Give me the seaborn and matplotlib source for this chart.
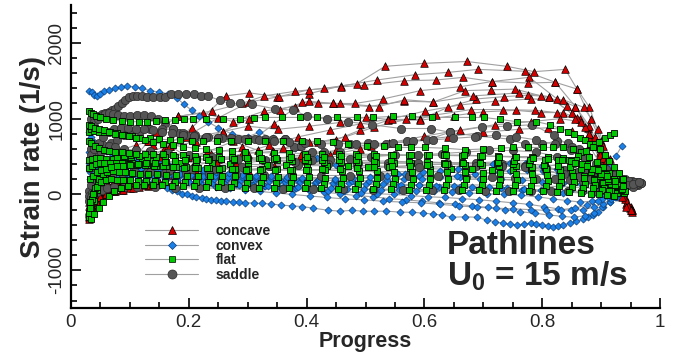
import matplotlib
matplotlib.use("Agg")
import matplotlib.pyplot as plt
import numpy as np
import pandas as pd
import seaborn as sns
from matplotlib.lines import Line2D
from matplotlib.ticker import MultipleLocator, FixedLocator, FixedFormatter

# ---------------- data ----------------
CONCAVE_X = [
    [0.030,0.034,0.040,0.050,0.065,0.085,0.110,0.140,0.182,0.240,0.290,0.328,0.380,0.430,0.485,0.533,0.600,0.672,0.740,0.786,0.839,0.859,0.880,0.900,0.918,0.935,0.950],
    [0.031,0.035,0.041,0.050,0.063,0.080,0.100,0.125,0.160,0.205,0.263,0.303,0.350,0.404,0.458,0.520,0.584,0.640,0.691,0.771,0.822,0.856,0.878,0.898,0.918,0.936,0.952],
    [0.030,0.033,0.038,0.045,0.055,0.070,0.090,0.115,0.150,0.195,0.250,0.303,0.353,0.404,0.458,0.498,0.566,0.620,0.666,0.715,0.778,0.825,0.856,0.880,0.903,0.925,0.942],
    [0.032,0.036,0.042,0.050,0.062,0.078,0.098,0.124,0.160,0.205,0.258,0.302,0.355,0.404,0.445,0.482,0.530,0.593,0.660,0.715,0.776,0.822,0.859,0.882,0.903,0.922,0.940,0.952],
    [0.031,0.035,0.041,0.049,0.060,0.075,0.095,0.122,0.160,0.199,0.237,0.290,0.345,0.392,0.445,0.506,0.566,0.615,0.669,0.713,0.754,0.798,0.842,0.873,0.898,0.920,0.940,0.953],
    [0.030,0.034,0.039,0.046,0.055,0.066,0.078,0.090,0.110,0.132,0.168,0.212,0.258,0.300,0.351,0.404,0.457,0.501,0.538,0.593,0.640,0.688,0.735,0.776,0.812,0.850,0.880,0.905,0.928,0.946],
    [0.032,0.037,0.043,0.052,0.064,0.080,0.100,0.130,0.168,0.199,0.231,0.275,0.318,0.360,0.404,0.450,0.491,0.538,0.593,0.650,0.700,0.755,0.798,0.835,0.864,0.888,0.910,0.930,0.948],
    [0.030,0.035,0.041,0.050,0.062,0.078,0.100,0.131,0.144,0.182,0.224,0.275,0.328,0.380,0.419,0.457,0.523,0.566,0.615,0.682,0.761,0.812,0.859,0.880,0.900,0.918,0.935,0.950],
    [0.031,0.035,0.040,0.047,0.056,0.068,0.084,0.104,0.130,0.165,0.205,0.250,0.300,0.343,0.386,0.419,0.466,0.515,0.569,0.620,0.679,0.734,0.788,0.825,0.856,0.880,0.903,0.925,0.944],
    [0.030,0.034,0.039,0.045,0.054,0.066,0.082,0.102,0.125,0.150,0.180,0.215,0.255,0.300,0.345,0.390,0.440,0.490,0.540,0.600,0.660,0.720,0.780,0.830,0.865,0.890,0.910,0.928,0.945],
    [0.030,0.033,0.037,0.042,0.050,0.060,0.072,0.086,0.100,0.116,0.131,0.150,0.175,0.205,0.240,0.280,0.330,0.390,0.450,0.510,0.570,0.640,0.700,0.760,0.810,0.850,0.880,0.905,0.925,0.942],
    [0.031,0.036,0.042,0.050,0.060,0.073,0.088,0.106,0.127,0.150,0.178,0.210,0.248,0.290,0.337,0.386,0.440,0.490,0.545,0.601,0.660,0.720,0.780,0.835,0.870,0.895,0.915,0.933,0.950],
]
CONCAVE_Y = [
    [-280,-190,-100,0,110,240,420,650,1030,1100,1200,1300,1360,1400,1460,1690,1730,1754,1690,1620,1650,1390,1150,700,300,20,-170],
    [-230,-150,-70,10,90,170,280,420,620,880,1300,1340,1290,1330,1430,1510,1580,1610,1650,1625,1480,1160,880,560,230,-20,-210],
    [-200,-130,-60,0,60,120,200,320,500,760,1010,1220,1290,1380,1420,1440,1500,1510,1545,1490,1545,1260,1160,900,500,150,-120],
    [-160,-90,-20,40,100,170,260,390,560,750,830,1000,1120,1230,1200,1200,1260,1370,1420,1490,1470,1480,1390,1000,640,250,-30,-200],
    [-300,-210,-130,-60,0,50,100,160,300,490,540,620,930,1220,1200,1160,1230,1220,1370,1380,1390,1300,1170,890,520,180,-60,-230],
    [-100,-30,40,120,220,340,480,600,650,700,640,690,830,900,860,900,950,1020,990,990,1150,1260,1290,1310,1290,1070,800,420,90,-150],
    [-60,10,80,150,250,380,480,560,640,490,560,700,580,610,690,720,850,980,980,1040,1090,1110,1080,1080,990,640,300,50,-180],
    [-250,-150,-50,40,130,230,400,700,830,1030,1080,960,1100,1160,1200,1200,1160,1250,1220,1300,1340,1290,1010,750,420,150,-40,-200],
    [-220,-140,-60,0,40,70,100,130,180,260,360,470,540,570,640,690,760,890,990,1050,1120,1120,1110,1080,1000,800,480,150,-100],
    [-150,-80,-20,20,50,80,100,120,140,170,200,230,270,320,380,450,520,600,680,770,850,920,960,1000,960,760,450,120,-150],
    [-320,-260,-180,-100,-40,10,40,60,80,100,110,150,200,260,330,400,450,520,580,640,700,760,820,860,880,840,640,320,60,-160],
    [-260,-170,-90,-30,10,40,60,90,120,160,230,320,420,540,650,760,850,930,1000,1100,1180,1230,1260,1250,1150,860,470,120,-210],
]

CONVEX_X = [
    [0.030,0.036,0.040,0.044,0.050,0.057,0.065,0.075,0.085,0.095,0.108,0.120,0.135,0.150,0.165,0.180,0.192,0.205,0.218,0.232,0.250,0.273,0.300,0.320,0.343,0.380,0.418,0.450,0.485,0.520,0.555,0.590,0.625,0.660,0.695,0.730,0.765,0.800,0.835,0.865,0.890,0.905,0.915,0.925,0.935],
    [0.030,0.035,0.040,0.046,0.053,0.062,0.072,0.084,0.098,0.112,0.128,0.145,0.165,0.185,0.205,0.225,0.248,0.272,0.298,0.325,0.355,0.385,0.415,0.450,0.485,0.520,0.555,0.590,0.625,0.660,0.695,0.730,0.765,0.800,0.835,0.865,0.890,0.910,0.930],
    [0.035,0.045,0.055,0.066,0.078,0.090,0.102,0.114,0.125,0.138,0.151,0.163,0.172,0.180,0.188,0.197,0.205,0.213,0.222,0.230,0.238,0.247,0.255,0.264,0.275,0.285,0.296,0.310,0.324,0.340,0.356,0.375,0.393,0.411,0.436,0.457,0.477,0.496,0.515,0.535,0.559,0.579,0.598,0.615,0.630,0.647,0.668,0.689,0.706,0.720,0.733,0.745,0.757,0.769,0.780,0.790,0.800,0.810,0.818,0.826,0.835,0.847,0.858,0.869,0.878,0.886,0.895,0.903,0.915,0.925],
    [0.030,0.036,0.043,0.051,0.060,0.070,0.082,0.095,0.109,0.124,0.140,0.157,0.175,0.194,0.214,0.235,0.257,0.280,0.304,0.328,0.353,0.378,0.404,0.430,0.457,0.484,0.512,0.540,0.568,0.596,0.624,0.652,0.680,0.708,0.736,0.762,0.788,0.812,0.834,0.854,0.872,0.888,0.902,0.915,0.927],
    [0.031,0.037,0.044,0.052,0.061,0.071,0.083,0.096,0.110,0.125,0.141,0.158,0.176,0.195,0.215,0.236,0.258,0.281,0.305,0.330,0.356,0.382,0.409,0.436,0.464,0.492,0.520,0.548,0.577,0.606,0.635,0.664,0.693,0.722,0.750,0.777,0.803,0.827,0.849,0.869,0.887,0.903,0.917,0.930],
    [0.032,0.038,0.045,0.054,0.064,0.075,0.087,0.100,0.114,0.129,0.145,0.162,0.180,0.199,0.219,0.240,0.262,0.285,0.309,0.334,0.360,0.386,0.413,0.441,0.469,0.498,0.527,0.556,0.586,0.616,0.646,0.676,0.706,0.735,0.764,0.792,0.818,0.842,0.864,0.884,0.901,0.916,0.930],
    [0.033,0.040,0.048,0.057,0.067,0.078,0.090,0.103,0.117,0.132,0.148,0.165,0.183,0.202,0.222,0.243,0.265,0.288,0.312,0.337,0.363,0.389,0.416,0.444,0.472,0.501,0.530,0.560,0.590,0.620,0.650,0.680,0.710,0.740,0.769,0.797,0.823,0.847,0.869,0.888,0.905,0.920,0.933],
    [0.035,0.042,0.050,0.059,0.069,0.080,0.092,0.105,0.119,0.134,0.150,0.167,0.185,0.204,0.224,0.245,0.267,0.290,0.314,0.339,0.365,0.392,0.420,0.448,0.477,0.506,0.536,0.566,0.596,0.626,0.656,0.686,0.716,0.745,0.774,0.802,0.828,0.852,0.874,0.893,0.909,0.923],
    [0.036,0.043,0.051,0.060,0.070,0.081,0.093,0.106,0.120,0.135,0.151,0.168,0.186,0.205,0.225,0.246,0.268,0.291,0.315,0.340,0.366,0.393,0.421,0.449,0.478,0.507,0.537,0.567,0.597,0.627,0.657,0.687,0.716,0.745,0.773,0.800,0.825,0.848,0.869,0.888,0.905,0.920],
    [0.040,0.050,0.062,0.075,0.090,0.106,0.123,0.141,0.160,0.180,0.201,0.223,0.246,0.270,0.295,0.321,0.348,0.376,0.405,0.435,0.466,0.498,0.530,0.562,0.594,0.626,0.658,0.690,0.721,0.751,0.780,0.807,0.832,0.855,0.876,0.895,0.911,0.925],
]
CONVEX_Y = [
    [1360,1350,1310,1300,1330,1370,1380,1400,1420,1430,1420,1400,1370,1350,1330,1270,1190,1110,1040,960,880,800,760,820,740,610,480,390,330,290,270,250,240,230,210,200,190,170,150,140,160,260,380,510,640],
    [820,760,690,640,610,575,540,505,490,455,430,395,370,345,305,280,265,240,225,195,185,175,150,160,135,130,115,120,95,100,80,85,60,45,20,30,40,70,100],
    [360,340,320,300,285,265,240,210,175,150,123,90,60,40,10,0,-20,-30,-50,-60,-70,-75,-85,-90,-100,-105,-110,-112,-118,-125,-140,-150,-160,-180,-208,-220,-210,-220,-222,-220,-233,-235,-246,-258,-272,-300,-295,-300,-340,-360,-380,-392,-400,-388,-380,-392,-400,-412,-430,-418,-400,-380,-355,-330,-300,-270,-225,-165,-100,-30],
    [560,520,490,470,450,430,405,380,360,335,315,300,270,250,230,200,185,160,140,110,95,70,55,30,10,-15,-30,-55,-70,-90,-110,-125,-150,-170,-200,-225,-250,-270,-290,-300,-280,-240,-170,-100,-30],
    [420,400,385,370,350,335,320,300,290,275,260,245,225,210,190,170,160,140,120,110,90,80,70,50,40,20,10,0,-15,-30,-40,-55,-70,-90,-110,-130,-160,-190,-210,-200,-170,-120,-60,0],
    [300,290,280,270,260,255,245,240,230,220,210,200,190,175,160,150,140,130,120,110,100,95,90,80,75,70,60,55,45,40,30,20,10,0,-10,-30,-60,-80,-100,-90,-60,-20,20],
    [200,210,220,240,250,260,270,275,280,270,260,250,240,230,220,210,200,190,185,175,170,165,160,150,145,140,135,130,120,115,110,100,95,85,70,60,50,40,30,20,10,20,40],
    [500,470,440,420,400,380,365,350,340,320,300,290,275,260,250,240,235,230,220,215,205,200,190,185,180,180,190,200,210,230,250,270,290,310,320,310,280,230,170,100,30,-40],
    [650,620,600,570,540,520,490,470,450,420,400,380,360,340,320,300,280,260,250,240,230,220,210,210,220,230,250,270,290,310,340,370,400,420,410,380,330,260,190,120,60,10],
    [450,420,400,370,340,310,280,250,220,190,160,130,100,80,60,40,20,0,-20,-40,-60,-70,-90,-100,-110,-130,-150,-170,-180,-190,-200,-210,-200,-180,-140,-90,-40,10],
]

FLAT_X = [
    [0.030,0.034,0.038,0.043,0.050,0.060,0.072,0.086,0.100,0.115,0.129,0.145,0.160,0.176,0.192,0.207,0.230,0.258,0.287,0.310,0.329,0.358,0.389,0.418,0.452,0.485,0.513,0.547,0.579,0.613,0.652,0.680,0.701,0.728,0.757,0.790,0.813,0.830,0.844,0.854,0.864,0.873,0.881,0.890,0.898,0.906,0.914,0.922,0.930,0.937],
    [0.030,0.035,0.040,0.047,0.056,0.066,0.078,0.090,0.104,0.118,0.134,0.150,0.168,0.186,0.205,0.225,0.248,0.272,0.300,0.330,0.360,0.392,0.418,0.444,0.470,0.503,0.531,0.555,0.578,0.601,0.635,0.669,0.700,0.730,0.750,0.775,0.801,0.818,0.835,0.852,0.866,0.880,0.892,0.903,0.914,0.925,0.935],
    [0.031,0.036,0.042,0.050,0.060,0.072,0.086,0.102,0.120,0.140,0.162,0.186,0.212,0.240,0.270,0.300,0.332,0.365,0.400,0.435,0.470,0.505,0.540,0.575,0.610,0.645,0.680,0.715,0.750,0.780,0.805,0.826,0.845,0.860,0.874,0.886,0.897,0.907,0.915,0.922],
    [0.030,0.034,0.039,0.045,0.052,0.060,0.069,0.079,0.090,0.102,0.115,0.129,0.144,0.160,0.177,0.195,0.214,0.234,0.255,0.277,0.300,0.324,0.349,0.375,0.402,0.430,0.459,0.488,0.518,0.548,0.578,0.608,0.638,0.668,0.698,0.727,0.755,0.782,0.807,0.830,0.851,0.870,0.887,0.902,0.915,0.927,0.938],
    [0.031,0.035,0.040,0.046,0.053,0.061,0.070,0.080,0.091,0.103,0.116,0.130,0.145,0.161,0.178,0.196,0.215,0.235,0.256,0.278,0.301,0.325,0.350,0.376,0.403,0.431,0.460,0.489,0.519,0.549,0.579,0.609,0.639,0.669,0.699,0.728,0.756,0.783,0.808,0.831,0.852,0.871,0.888,0.903,0.916,0.928,0.940],
    [0.032,0.036,0.041,0.047,0.054,0.062,0.071,0.081,0.092,0.104,0.117,0.131,0.146,0.162,0.179,0.197,0.216,0.236,0.257,0.279,0.302,0.326,0.351,0.377,0.404,0.432,0.461,0.490,0.520,0.550,0.580,0.610,0.640,0.670,0.700,0.729,0.757,0.784,0.809,0.832,0.853,0.872,0.889,0.904,0.917,0.929],
    [0.033,0.038,0.044,0.051,0.059,0.068,0.078,0.089,0.101,0.114,0.128,0.143,0.159,0.176,0.194,0.213,0.233,0.254,0.276,0.299,0.323,0.348,0.374,0.401,0.429,0.458,0.487,0.517,0.547,0.577,0.607,0.637,0.667,0.697,0.726,0.754,0.781,0.806,0.829,0.850,0.869,0.886,0.901,0.914,0.926],
    [0.030,0.035,0.041,0.048,0.056,0.065,0.075,0.086,0.098,0.111,0.125,0.140,0.156,0.173,0.191,0.210,0.230,0.251,0.273,0.296,0.320,0.345,0.371,0.398,0.426,0.455,0.484,0.514,0.544,0.574,0.604,0.634,0.664,0.694,0.723,0.751,0.778,0.803,0.826,0.847,0.866,0.883,0.898,0.911,0.923,0.934],
    [0.030,0.035,0.041,0.048,0.056,0.065,0.075,0.086,0.098,0.111,0.125,0.140,0.156,0.173,0.191,0.210,0.230,0.251,0.273,0.296,0.320,0.345,0.371,0.398,0.426,0.455,0.484,0.514,0.544,0.574,0.604,0.634,0.664,0.694,0.724,0.754,0.783,0.810,0.835,0.857,0.876,0.893,0.908,0.921,0.933],
    [0.034,0.040,0.047,0.055,0.064,0.074,0.085,0.097,0.110,0.124,0.139,0.155,0.172,0.190,0.209,0.229,0.250,0.272,0.295,0.319,0.344,0.370,0.397,0.425,0.454,0.483,0.513,0.543,0.573,0.603,0.633,0.663,0.693,0.722,0.750,0.777,0.802,0.825,0.846,0.865,0.882,0.897,0.910,0.922],
    [0.031,0.036,0.042,0.049,0.057,0.066,0.076,0.087,0.099,0.112,0.126,0.141,0.157,0.174,0.192,0.211,0.231,0.252,0.274,0.297,0.321,0.346,0.372,0.399,0.427,0.456,0.485,0.515,0.545,0.575,0.605,0.635,0.665,0.695,0.724,0.752,0.779,0.804,0.827,0.848,0.867,0.884,0.899,0.912,0.924,0.935],
    [0.033,0.038,0.044,0.051,0.059,0.068,0.078,0.089,0.101,0.114,0.128,0.143,0.159,0.176,0.194,0.213,0.233,0.254,0.276,0.299,0.323,0.348,0.374,0.401,0.429,0.458,0.487,0.517,0.547,0.577,0.607,0.637,0.667,0.697,0.727,0.756,0.784,0.810,0.834,0.856,0.876,0.894,0.910,0.924,0.937],
]
FLAT_Y = [
    [1100,1080,1060,1040,1020,1000,980,970,960,960,960,970,980,985,990,1000,1000,1000,1000,1010,1016,1016,1016,1016,1016,1016,1016,1030,1030,1016,1016,1016,1016,990,960,960,920,870,830,800,750,720,670,660,600,520,440,360,280,200],
    [820,860,840,830,820,820,810,790,770,750,740,730,720,720,710,710,700,700,700,700,700,700,700,690,670,640,640,620,620,620,610,590,600,610,620,620,620,620,620,600,560,500,430,360,280,200,130],
    [450,470,480,480,470,470,460,450,440,440,430,420,420,410,400,400,390,390,380,380,370,360,360,350,340,330,330,320,320,330,360,400,450,510,570,630,690,740,780,810],
    [-300,-200,-80,60,200,330,420,480,510,520,510,500,500,495,490,480,470,470,465,460,455,450,450,445,440,430,430,425,420,420,410,400,400,390,385,380,370,360,340,320,290,250,200,150,100,60,20],
    [-250,-120,20,160,280,360,400,410,420,410,400,390,380,370,365,360,350,350,345,340,335,330,330,325,320,320,315,310,305,300,300,300,295,290,285,280,275,270,260,250,240,220,190,150,110,70,40],
    [-180,-60,80,200,270,300,310,300,290,280,275,270,265,260,255,250,245,245,240,240,235,230,230,225,225,220,220,215,215,210,210,205,205,200,200,195,190,185,180,170,160,140,120,90,60,30],
    [-100,0,100,160,190,200,195,190,185,180,175,175,170,170,165,165,160,160,155,150,150,150,145,145,140,140,140,135,135,130,130,130,125,125,120,120,115,110,105,100,90,80,60,40,20],
    [700,680,640,610,590,570,560,560,550,540,540,530,530,520,520,510,500,500,490,490,480,470,470,460,460,450,450,440,440,430,430,420,420,410,410,400,400,390,380,360,330,290,240,180,120,60],
    [920,900,880,860,850,830,800,790,770,740,720,690,670,650,630,610,600,580,570,560,550,550,545,540,540,535,530,530,525,520,520,515,510,510,505,500,500,495,480,450,400,340,270,200,130],
    [-320,-260,-180,-100,-20,40,80,110,130,130,125,120,115,110,105,100,100,95,90,90,85,85,80,80,75,75,70,70,65,60,60,55,55,50,50,45,40,35,30,20,10,0,-10,-20],
    [350,380,400,410,420,420,415,410,400,390,385,380,370,360,355,350,345,340,330,325,320,320,320,325,330,340,350,360,370,380,390,400,410,420,430,440,450,460,460,440,400,340,270,200,130,70],
    [200,250,290,320,340,360,370,380,390,400,410,420,430,440,450,455,460,465,470,475,480,485,490,495,500,505,510,510,515,515,520,520,520,510,500,490,480,470,450,420,380,320,250,180,110],
]

SADDLE_X = [
    [0.035,0.040,0.046,0.052,0.058,0.064,0.070,0.075,0.080,0.086,0.092,0.098,0.105,0.112,0.120,0.129,0.140,0.151,0.160,0.170,0.182,0.195,0.209,0.221,0.233,0.253,0.270,0.287,0.307,0.346,0.377,0.400,0.434,0.470,0.511,0.560,0.611,0.643,0.689,0.745,0.771,0.800,0.825,0.844,0.862,0.878,0.893,0.906,0.918,0.930,0.942,0.953,0.963],
    [0.034,0.040,0.046,0.052,0.058,0.064,0.072,0.080,0.090,0.100,0.112,0.124,0.136,0.148,0.160,0.173,0.183,0.195,0.210,0.228,0.250,0.275,0.300,0.330,0.363,0.379,0.410,0.430,0.457,0.474,0.505,0.535,0.570,0.604,0.643,0.698,0.740,0.783,0.820,0.850,0.875,0.895,0.912,0.926,0.940,0.952,0.962],
    [0.033,0.038,0.044,0.051,0.059,0.068,0.078,0.090,0.103,0.118,0.135,0.155,0.173,0.190,0.210,0.232,0.256,0.283,0.312,0.343,0.363,0.390,0.410,0.440,0.474,0.510,0.550,0.589,0.630,0.670,0.710,0.750,0.790,0.825,0.853,0.877,0.898,0.916,0.932,0.946,0.958],
    [0.030,0.034,0.039,0.045,0.052,0.060,0.070,0.085,0.105,0.130,0.160,0.195,0.235,0.280,0.327,0.375,0.424,0.474,0.524,0.574,0.623,0.670,0.714,0.754,0.790,0.821,0.847,0.869,0.888,0.904,0.918,0.930,0.941,0.951,0.960,0.968],
    [0.031,0.036,0.042,0.049,0.058,0.070,0.086,0.108,0.135,0.168,0.205,0.246,0.290,0.337,0.386,0.436,0.487,0.538,0.589,0.639,0.687,0.731,0.771,0.806,0.836,0.861,0.882,0.900,0.915,0.928,0.940,0.951,0.961],
    [0.034,0.040,0.047,0.055,0.064,0.075,0.090,0.110,0.135,0.165,0.200,0.240,0.283,0.330,0.380,0.432,0.485,0.538,0.590,0.640,0.687,0.731,0.771,0.806,0.836,0.861,0.882,0.900,0.915,0.929,0.942,0.954],
    [0.034,0.040,0.047,0.055,0.064,0.074,0.085,0.097,0.110,0.124,0.139,0.155,0.172,0.190,0.209,0.229,0.250,0.272,0.295,0.319,0.344,0.370,0.397,0.425,0.454,0.484,0.515,0.547,0.580,0.614,0.649,0.685,0.721,0.756,0.790,0.821,0.848,0.871,0.891,0.908,0.922,0.935,0.947,0.958,0.967],
    [0.030,0.034,0.039,0.045,0.052,0.061,0.073,0.090,0.113,0.142,0.177,0.217,0.262,0.310,0.360,0.411,0.462,0.513,0.563,0.612,0.659,0.703,0.744,0.781,0.814,0.843,0.867,0.887,0.904,0.918,0.931,0.943,0.954,0.964],
]
SADDLE_Y = [
    [1000,1020,1040,1060,1070,1090,1110,1130,1170,1210,1250,1280,1300,1300,1300,1290,1290,1280,1290,1320,1330,1330,1320,1300,1300,1240,1200,1200,1190,1130,1110,1040,990,960,920,870,870,820,770,730,660,660,710,680,600,500,400,320,250,200,160,130,120],
    [900,960,1000,1040,1060,1070,1060,1050,1040,1030,1045,1050,1040,1000,940,860,810,780,760,740,740,730,730,730,730,630,560,560,560,670,680,670,700,720,820,890,900,920,780,620,480,380,300,240,200,180,170],
    [350,420,500,560,620,680,720,780,820,840,860,860,860,810,780,760,740,730,730,730,730,640,450,460,470,500,520,520,540,560,580,580,560,500,420,340,270,210,170,140,120],
    [50,120,200,260,290,300,310,310,300,290,285,280,270,265,260,255,250,250,250,245,240,235,230,220,210,200,190,180,170,160,150,145,140,140,145,150],
    [-20,20,80,150,210,250,280,290,300,320,330,340,360,380,390,400,410,410,420,420,410,400,380,350,320,290,260,230,200,180,160,150,140],
    [600,620,640,650,640,620,600,585,570,550,520,490,470,450,430,410,385,370,360,365,380,380,360,320,270,230,200,170,150,130,115,100],
    [520,600,680,760,820,860,880,880,870,860,850,830,810,790,770,760,750,740,730,720,700,690,680,670,670,670,670,680,700,720,740,760,780,760,720,660,580,490,400,330,260,210,180,160,150],
    [-80,-40,0,30,60,80,95,100,100,95,90,85,80,80,75,70,70,65,60,60,55,50,45,40,40,40,45,50,60,80,100,120,140,160],
]

SHAPES = ["concave", "convex", "flat", "saddle"]
X_TICKS = [0, 0.2, 0.4, 0.6, 0.8, 1]
X_LABELS = ["0", "0.2", "0.4", "0.6", "0.8", "1"]
Y_TICKS = [-1000, 0, 1000, 2000]
Y_LABELS = ["-1000", "0", "1000", "2000"]

# ---------------- table ----------------
rows = []
for shape, XS, YS in zip(SHAPES, [CONCAVE_X, CONVEX_X, FLAT_X, SADDLE_X],
                         [CONCAVE_Y, CONVEX_Y, FLAT_Y, SADDLE_Y]):
    for i, (xs, ys) in enumerate(zip(XS, YS)):
        for x, y in zip(xs, ys):
            rows.append((shape, f"{shape}{i}", x, y))
df = pd.DataFrame(rows, columns=["shape", "line", "progress", "strain"])

# ---------------- styling ----------------
sns.set_theme(style="ticks")
plt.rcParams["font.family"] = ["Liberation Sans", "DejaVu Sans"]
plt.rcParams["axes.unicode_minus"] = False
plt.rcParams["mathtext.fontset"] = "custom"
plt.rcParams["mathtext.bf"] = "Liberation Sans:bold"
plt.rcParams["mathtext.rm"] = "Liberation Sans:bold"
plt.rcParams["mathtext.default"] = "bf"

STYLE = {
    "concave": dict(marker="^", color="#d40000", edgecolor="#000000", s=30, linewidth=0.5),
    "convex":  dict(marker="D", color="#1a7fe6", edgecolor="#0b3f7a", s=13, linewidth=0.5),
    "flat":    dict(marker="s", color="#00c800", edgecolor="#000000", s=20, linewidth=0.6),
    "saddle":  dict(marker="o", color="#555555", edgecolor="#2a2a2a", s=36, linewidth=0.5),
}
LINE_COLOR = "#a0a0a0"

fig = plt.figure(figsize=(6.75, 3.53), dpi=100)
ax = fig.add_axes([0.105, 0.127, 0.873, 0.859])

sns.lineplot(data=df, x="progress", y="strain", units="line", estimator=None,
             sort=False, color=LINE_COLOR, lw=0.8, ax=ax, legend=False, zorder=1)

for z, shape in enumerate(["concave", "convex", "saddle", "flat"]):
    st = STYLE[shape]
    sns.scatterplot(data=df[df["shape"] == shape], x="progress", y="strain",
                    marker=st["marker"], color=st["color"], edgecolor=st["edgecolor"],
                    s=st["s"], linewidth=st["linewidth"], ax=ax, legend=False,
                    zorder=2 + z)

ax.set_xlim(0, 1)
ax.set_ylim(-1500, 2500)
ax.xaxis.set_major_locator(FixedLocator(X_TICKS))
ax.xaxis.set_major_formatter(FixedFormatter(X_LABELS))
ax.xaxis.set_minor_locator(MultipleLocator(0.05))
ax.yaxis.set_major_locator(FixedLocator(Y_TICKS))
ax.yaxis.set_major_formatter(FixedFormatter(Y_LABELS))
ax.yaxis.set_minor_locator(MultipleLocator(200))

for sp in ["top", "right"]:
    ax.spines[sp].set_visible(False)
for sp in ["left", "bottom"]:
    ax.spines[sp].set_linewidth(1.6)
    ax.spines[sp].set_color("black")

ax.tick_params(which="both", direction="in", color="black", width=1.2)
ax.tick_params(which="major", length=7, labelsize=13.5, pad=4)
ax.tick_params(which="minor", length=4)
ax.tick_params(axis="y", labelrotation=90)
for lbl in ax.get_yticklabels():
    lbl.set_va("center")

ax.set_xlabel("Progress", fontsize=15.5, fontweight="bold", labelpad=0)
ax.set_ylabel("Strain rate (1/s)", fontsize=20, fontweight="bold", labelpad=2)

handles = [Line2D([0], [0], color=LINE_COLOR, lw=0.8, marker=STYLE[s]["marker"],
                  markerfacecolor=STYLE[s]["color"], markeredgecolor=STYLE[s]["edgecolor"],
                  markeredgewidth=0.5, markersize={"concave": 6, "convex": 4.2, "flat": 4.8, "saddle": 6.5}[s])
           for s in SHAPES]
ax.legend(handles, SHAPES, loc="upper left", bbox_to_anchor=(0.126, 0.278),
          frameon=False, handlelength=3.8, handletextpad=1.3, labelspacing=0.05,
          borderpad=0, borderaxespad=0, prop=dict(weight="bold", size=10))

ax.text(0.638, 0.18, "Pathlines", transform=ax.transAxes, fontsize=24,
        fontweight="bold", va="baseline", ha="left")
ax.text(0.638, 0.076, r"U$_0$ = 15 m/s", transform=ax.transAxes, fontsize=24,
        fontweight="bold", va="baseline", ha="left")

fig.savefig("out.png", dpi=100)
